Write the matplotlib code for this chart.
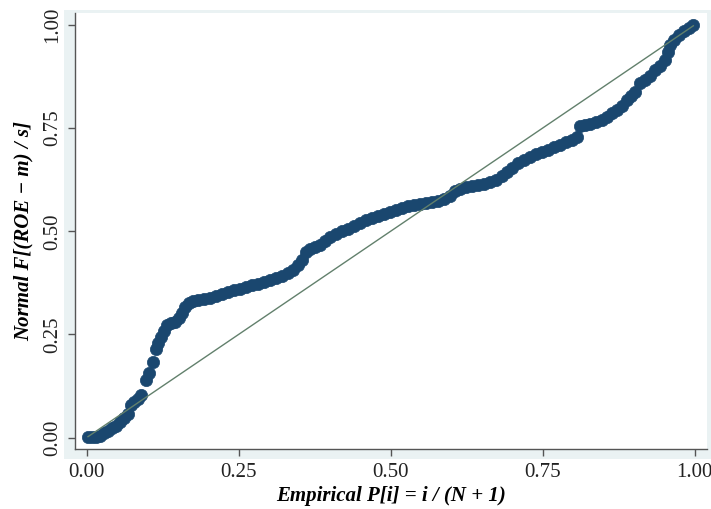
import matplotlib
matplotlib.use("Agg")
import matplotlib.pyplot as plt

# empirical probability (x) and normal cdf of standardized ROE (y)
emp_p = [0.0025, 0.009, 0.016, 0.022, 0.029, 0.035, 0.042, 0.049, 0.055, 0.062,
         0.068, 0.073, 0.078, 0.085, 0.090, 0.098, 0.103, 0.109, 0.114, 0.118,
         0.123, 0.127, 0.132, 0.139, 0.146, 0.152, 0.157, 0.162, 0.169, 0.175,
         0.183, 0.193, 0.203, 0.213, 0.223, 0.233, 0.243, 0.252, 0.262, 0.272,
         0.282, 0.292, 0.302, 0.312, 0.322, 0.331, 0.340, 0.348, 0.354, 0.361,
         0.368, 0.376, 0.384, 0.392, 0.400, 0.410, 0.420, 0.430, 0.440, 0.450,
         0.460, 0.470, 0.479, 0.489, 0.499, 0.509, 0.519, 0.529, 0.539, 0.549,
         0.558, 0.568, 0.578, 0.588, 0.598, 0.606, 0.614, 0.624, 0.634, 0.644,
         0.654, 0.664, 0.674, 0.683, 0.692, 0.700, 0.710, 0.720, 0.729, 0.739,
         0.749, 0.759, 0.769, 0.779, 0.789, 0.798, 0.807, 0.812, 0.820, 0.828,
         0.838, 0.848, 0.856, 0.864, 0.873, 0.881, 0.889, 0.896, 0.902, 0.910,
         0.919, 0.927, 0.935, 0.943, 0.951, 0.956, 0.960, 0.966, 0.974, 0.982,
         0.991, 0.998]
norm_f = [0.002, 0.002, 0.002, 0.004, 0.011, 0.016, 0.024, 0.028, 0.038, 0.048,
          0.057, 0.079, 0.087, 0.094, 0.103, 0.140, 0.157, 0.184, 0.215, 0.229,
          0.244, 0.259, 0.273, 0.278, 0.280, 0.290, 0.302, 0.316, 0.326, 0.331,
          0.334, 0.336, 0.338, 0.343, 0.348, 0.353, 0.358, 0.360, 0.365, 0.370,
          0.372, 0.377, 0.382, 0.387, 0.392, 0.399, 0.406, 0.418, 0.430, 0.450,
          0.457, 0.462, 0.467, 0.477, 0.486, 0.494, 0.501, 0.506, 0.513, 0.520,
          0.527, 0.532, 0.537, 0.542, 0.547, 0.552, 0.556, 0.561, 0.564, 0.566,
          0.569, 0.571, 0.573, 0.578, 0.585, 0.597, 0.602, 0.607, 0.610, 0.612,
          0.614, 0.619, 0.624, 0.634, 0.644, 0.653, 0.665, 0.673, 0.680, 0.687,
          0.692, 0.697, 0.704, 0.709, 0.716, 0.721, 0.728, 0.755, 0.757, 0.760,
          0.765, 0.770, 0.777, 0.787, 0.794, 0.804, 0.818, 0.828, 0.837, 0.859,
          0.867, 0.876, 0.891, 0.901, 0.915, 0.934, 0.951, 0.964, 0.975, 0.985,
          0.993, 0.999]

ticks = [0.0, 0.25, 0.5, 0.75, 1.0]
tick_labels = ["0.00", "0.25", "0.50", "0.75", "1.00"]

navy = "#1a476f"
line_col = "#62806c"
bg = "#eaf2f3"

fig = plt.figure(figsize=(7.11, 5.09), dpi=100)
fig.patch.set_facecolor("white")

# light graph-region band round the plot area
bg_ax = fig.add_axes([0.09, 0.098, 0.91, 0.882], zorder=0)
bg_ax.set_facecolor(bg)
bg_ax.set_axis_off()
bg_ax.add_patch(plt.Rectangle((0, 0), 1, 1, transform=bg_ax.transAxes,
                              facecolor=bg, edgecolor="none"))

ax = fig.add_axes([0.1055, 0.1179, 0.889, 0.8566], zorder=1)
ax.set_facecolor("white")

ax.scatter(emp_p, norm_f, s=78, color=navy, edgecolors=navy, linewidths=0.5, zorder=2)
ax.plot([emp_p[0], emp_p[-1]], [emp_p[0], emp_p[-1]], color=line_col, lw=1.0, zorder=3)

ax.set_xlim(-0.0189, 1.0206)
ax.set_ylim(-0.0274, 1.029)

for s in ["top", "right"]:
    ax.spines[s].set_visible(False)
for s in ["left", "bottom"]:
    ax.spines[s].set_color("#555555")
    ax.spines[s].set_linewidth(1.0)

ax.set_xticks(ticks)
ax.set_xticklabels(tick_labels, family="Liberation Serif", fontsize=15, color="#222222")
ax.set_yticks(ticks)
ax.set_yticklabels(tick_labels, family="Liberation Serif", fontsize=15, color="#222222",
                   rotation=90, va="center")
ax.tick_params(axis="both", direction="out", length=5, width=1.0, color="#555555")
ax.tick_params(axis="x", pad=5)
ax.tick_params(axis="y", pad=4)

ax.set_xlabel("Empirical P[i] = i / (N + 1)", family="Liberation Serif",
              fontsize=15, fontweight="bold", style="italic", labelpad=3)
ax.set_ylabel("Normal F[(ROE \u2212 m) / s]", family="Liberation Serif",
              fontsize=15, fontweight="bold", style="italic", labelpad=7)

fig.savefig("out.png", dpi=100)
